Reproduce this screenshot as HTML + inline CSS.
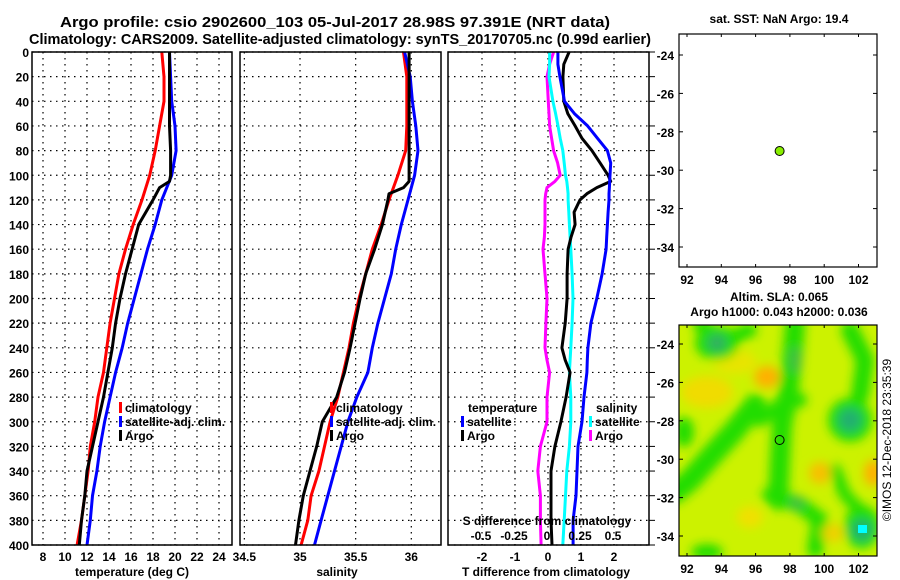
<!DOCTYPE html>
<html><head><meta charset="utf-8">
<style>
html,body{margin:0;padding:0;background:#fff;}
svg{display:block;font-family:"Liberation Sans",sans-serif;font-weight:bold;}
</style></head>
<body>
<svg id="chart" width="900" height="580" viewBox="0 0 900 580" xmlns="http://www.w3.org/2000/svg">
<defs>
<filter id="blur" x="-50%" y="-50%" width="200%" height="200%"><feGaussianBlur stdDeviation="5"/></filter>
<clipPath id="mapclip"><rect x="679" y="325" width="198" height="231"/></clipPath>
</defs>
<text x="60" y="27" font-size="15" textLength="550" lengthAdjust="spacingAndGlyphs">Argo profile: csio 2902600_103 05-Jul-2017 28.98S 97.391E (NRT data)</text>
<text x="29" y="44" font-size="15" textLength="622" lengthAdjust="spacingAndGlyphs">Climatology: CARS2009. Satellite-adjusted climatology: synTS_20170705.nc (0.99d earlier)</text>
<g id="layer"></g>
<text x="779" y="23" font-size="12" text-anchor="middle">sat. SST: NaN Argo: 19.4</text>
<text x="779" y="301" font-size="12" text-anchor="middle">Altim. SLA: 0.065</text>
<text x="779" y="316" font-size="12" text-anchor="middle">Argo h1000: 0.043 h2000: 0.036</text>
<text x="0" y="0" font-size="12" font-weight="normal" text-anchor="middle" transform="translate(891,440) rotate(-90)">©IMOS 12-Dec-2018 23:35:39</text>
</svg>
<script>
// ---- data ----
const depths = [0,20,40,60,80,100,120,140,160,180,200,220,240,260,280,300,320,340,360,380,400];
const tempClim = [18.8,19.0,19.0,18.6,18.2,17.7,17.0,16.2,15.5,14.9,14.5,14.1,13.8,13.5,13.0,12.7,12.3,12.1,11.8,11.5,11.1];
const tempSat  = [19.5,19.6,19.7,20.0,20.1,19.7,18.8,18.2,17.5,16.9,16.3,15.7,15.2,14.6,14.1,13.6,13.2,12.9,12.5,12.3,12.0];
const tempArgoDepths = [0,20,40,60,80,100,105,110,120,140,160,180,200,220,240,260,280,300,320,340,360,380,400];
const tempArgo = [19.5,19.5,19.5,19.5,19.6,19.6,19.5,18.6,18.0,16.7,16.1,15.5,15.0,14.6,14.3,13.9,13.5,13.0,12.5,12.0,11.8,11.5,11.3];
const salClim = [35.93,35.96,35.96,35.96,35.95,35.88,35.80,35.73,35.65,35.59,35.53,35.48,35.44,35.39,35.34,35.27,35.22,35.17,35.10,35.07,35.01];
const salSat  = [35.94,35.99,36.01,36.04,36.06,36.03,35.97,35.91,35.86,35.82,35.76,35.70,35.65,35.61,35.51,35.43,35.37,35.31,35.25,35.19,35.13];
const salArgoDepths = [0,20,40,60,80,100,105,110,115,120,140,160,180,200,240,260,280,300,320,340,360,380,400];
const salArgo = [35.98,35.98,35.98,35.98,35.98,35.98,35.98,35.93,35.80,35.79,35.74,35.67,35.59,35.54,35.45,35.40,35.33,35.20,35.15,35.09,35.03,34.99,34.96];
const diffDepths = [0,10,20,40,50,60,70,80,90,100,105,110,115,120,130,140,150,160,180,200,220,240,250,260,280,300,320,340,360,380,400];
const dTSat  = [0.30,0.30,0.36,0.50,0.80,1.20,1.50,1.80,1.90,1.88,1.87,1.86,1.85,1.85,1.82,1.80,1.78,1.76,1.64,1.48,1.30,1.21,1.19,1.18,1.09,1.03,0.91,0.88,0.85,0.76,0.76];
const dTArgo = [0.64,0.48,0.45,0.48,0.60,0.82,1.03,1.33,1.58,1.82,1.90,1.48,1.18,0.97,0.79,0.82,0.70,0.61,0.58,0.58,0.52,0.42,0.52,0.67,0.55,0.39,0.21,0.09,0.09,0.09,0.12];
const dSSat  = [0.02,0.02,0.015,0.045,0.065,0.083,0.10,0.12,0.13,0.14,0.15,0.155,0.16,0.16,0.165,0.17,0.175,0.18,0.19,0.197,0.19,0.18,0.175,0.17,0.18,0.18,0.17,0.15,0.14,0.13,0.12];
const dSArgo = [0.05,0.02,0.00,0.01,0.015,0.02,0.035,0.05,0.08,0.10,0.06,0.00,-0.01,-0.015,-0.015,-0.015,-0.02,-0.03,-0.015,0.00,-0.008,-0.015,0.00,0.02,0.00,0.00,-0.05,-0.07,-0.05,-0.05,-0.045];
const depthTicks = [0,20,40,60,80,100,120,140,160,180,200,220,240,260,280,300,320,340,360,380,400];
const tempTicks = [8,10,12,14,16,18,20,22,24];
const salTicks = [34.5,35,35.5,36];
const dTTicks = [-2,-1,0,1,2];
const dSTicks = [-0.5,-0.25,0,0.25,0.5];
const dSTickLabels = ["-0.5","-0.25","0","0.25","0.5"];
const lonTicks = [92,94,96,98,100,102];
const latTicks = [-24,-26,-28,-30,-32,-34];
const argoLon = [97.4];
const argoLat = [-29.0];

// ---- scales ----
const Y = d => 52 + d*1.2325;
const XT = t => 43 + (t-8)*11;
const XS = s => 300 + (s-35)*111.3;
const XdT = t => 548 + t*33;
const XdS = s => 547 + s*132;
const LON = l => 687 + (l-92)*17.15;
const LATT = l => 55 + (-24-l)*19.2;
const LATB = l => 344 + (-24-l)*19.2;

const NS="http://www.w3.org/2000/svg";
const layer=document.getElementById('layer');
function mk(tag,attrs,parent){const e=document.createElementNS(NS,tag);for(const k in attrs)e.setAttribute(k,attrs[k]);(parent||layer).appendChild(e);return e;}
function txt(x,y,s,anchor,size){const e=mk('text',{x:x,y:y,'font-size':size||12,'text-anchor':anchor||'start'});e.textContent=s;return e;}

const panels=[{x0:32,x1:232},{x0:240,x1:441},{x0:448,x1:649}];
panels.forEach((p,i)=>{
  depthTicks.forEach(d=>{
    const l=mk('line',{x1:p.x0,x2:p.x1,y1:Y(d),y2:Y(d),stroke:'#000','stroke-width':1.2,'stroke-dasharray':'1.5,4.5'});
    
    
  });
});
tempTicks.forEach(t=>{
  const l=mk('line',{x1:XT(t),x2:XT(t),y1:52,y2:545,stroke:'#000','stroke-width':1.2,'stroke-dasharray':'1.5,4.5'});
  
  
  const e=txt(XT(t),561,String(t),'middle');
  
  
});
salTicks.forEach(s=>{
  const l=mk('line',{x1:XS(s),x2:XS(s),y1:52,y2:545,stroke:'#000','stroke-width':1.2,'stroke-dasharray':'1.5,4.5'});
  
  
  const e=txt(XS(s),561,String(s),'middle');
  
  
});
dTTicks.forEach(t=>{
  const l=mk('line',{x1:XdT(t),x2:XdT(t),y1:52,y2:545,stroke:'#000','stroke-width':1.2,'stroke-dasharray':'1.5,4.5'});
  
  
  const e=txt(XdT(t),561,String(t),'middle');
  
  
});
depthTicks.forEach(d=>{
  const e=txt(29,Y(d)+5,String(d),'end');
  
  
  const tk=mk('line',{x1:649,x2:655,y1:Y(d),y2:Y(d),stroke:'#000','stroke-width':1});
  
  
});

function series(xs,ds,sx,color,name){
  const pts=xs.map((v,i)=>sx(v).toFixed(1)+','+Y(ds[i]).toFixed(1)).join(' ');
  const e=mk('polyline',{points:pts,fill:'none',stroke:color,'stroke-width':3,'stroke-linejoin':'round'});
  
  
}
series(tempClim,depths,XT,'#ff0000','temp-climatology-line');
series(tempSat,depths,XT,'#0000ff','temp-satellite-line');
series(tempArgo,tempArgoDepths,XT,'#000000','temp-argo-line');
series(salClim,depths,XS,'#ff0000','salinity-climatology-line');
series(salSat,depths,XS,'#0000ff','salinity-satellite-line');
series(salArgo,salArgoDepths,XS,'#000000','salinity-argo-line');
series(dSArgo,diffDepths,XdS,'#ff00ff','sdiff-argo-line');
series(dSSat,diffDepths,XdS,'#00ffff','sdiff-satellite-line');
series(dTArgo,diffDepths,XdT,'#000000','tdiff-argo-line');
series(dTSat,diffDepths,XdT,'#0000ff','tdiff-satellite-line');

panels.forEach(p=>{
  const r=mk('rect',{x:p.x0,y:52,width:p.x1-p.x0,height:493,fill:'none',stroke:'#000','stroke-width':1.5});
  
  
});

function legend(x,y,color,label,name){
  const m=mk('rect',{x:x,y:y-10,width:3,height:11,fill:color});
  
  
  const t=txt(x+6,y,label);
  
  
}
legend(119,412,'#ff0000','climatology','legend-temp-climatology');
legend(119,426,'#0000ff','satellite-adj. clim.','legend-temp-satellite');
legend(119,440,'#000000','Argo','legend-temp-argo');
legend(330,412,'#ff0000','climatology','legend-sal-climatology');
legend(330,426,'#0000ff','satellite-adj. clim.','legend-sal-satellite');
legend(330,440,'#000000','Argo','legend-sal-argo');
let t1=txt(468,412,'temperature');


legend(461,426,'#0000ff','satellite','legend-tdiff-satellite');
legend(461,440,'#000000','Argo','legend-tdiff-argo');
let t2=txt(596,412,'salinity');


legend(589,426,'#00ffff','satellite','legend-sdiff-satellite');
legend(589,440,'#ff00ff','Argo','legend-sdiff-argo');
let t3=txt(547,525,'S difference from climatology','middle');


dSTicks.forEach((s,i)=>{
  const e=txt(XdS(s),540,dSTickLabels[i],'middle');
  
  
});
let a1=txt(132,576,'temperature (deg C)','middle');


let a2=txt(337,576,'salinity','middle');


let a3=txt(546,576,'T difference from climatology','middle');



// ---- bottom map field ----
const mapg=mk('g',{'clip-path':'url(#mapclip)'});


mk('rect',{x:679,y:325,width:198,height:231,fill:'#ccf200'},mapg);
const bg=mk('g',{filter:'url(#blur)'},mapg);
const bands=[
 ['#22dd00',22,'755,405 735,430 712,455 690,480 675,492'],
 ['#22dd00',20,'795,325 792,360 788,395 782,425 780,460 778,500'],
 ['#22dd00',14,'760,420 780,405 800,400'],
 ['#22dd00',16,'770,495 800,505 820,520 815,550'],
 ['#22dd00',18,'850,330 865,360 860,395'],
 ['#22dd00',14,'700,325 725,340 750,330'],
 ['#22dd00',12,'835,470 845,495 860,510']
];
bands.forEach(b=>{
  const e=mk('polyline',{points:b[2],fill:'none',stroke:b[0],'stroke-width':b[1],'stroke-linecap':'round','stroke-linejoin':'round'},bg);
  
  
});
const blobs=[
 ['#f0dc00',707,392,26,16],['#ffb000',767,377,13,11],['#f8c000',820,473,11,11],['#ffb000',873,473,9,13],
 ['#f0e000',750,517,13,11],['#f0d000',833,533,11,9],['#e8e400',735,362,22,12],
 ['#22dd00',717,343,22,17],['#22dd00',684,432,10,15],
 ['#22dd00',850,420,22,22],['#22dd00',862,527,18,22],['#22dd00',707,552,16,8],
 ['#30b060',717,343,10,9],['#20b070',850,420,12,12],['#20b070',862,530,11,11],['#40c040',797,503,8,7],['#40c040',795,360,7,14]
];
blobs.forEach(b=>{
  const e=mk('ellipse',{cx:b[1],cy:b[2],rx:b[3],ry:b[4],fill:b[0]},bg);
  
  
});
const cy=mk('rect',{x:858,y:525,width:9,height:8,fill:'#00ffff'},mapg);



// ---- maps frames, ticks ----
[[34,267,LATT,'sst-map'],[325,556,LATB,'sla-map']].forEach(m=>{
  const r=mk('rect',{x:679,y:m[0],width:198,height:m[1]-m[0],fill:'none',stroke:'#000','stroke-width':1.2});
  
  
  lonTicks.forEach(l=>{
    const e=txt(LON(l),m[1]+17,String(l),'middle');
    
    
    mk('line',{x1:LON(l),x2:LON(l),y1:m[0],y2:m[0]+3,stroke:'#000'});
    mk('line',{x1:LON(l),x2:LON(l),y1:m[1],y2:m[1]-3,stroke:'#000'});
  });
  latTicks.forEach(l=>{
    const e=txt(674,m[2](l)+5,String(l),'end');
    
    
    mk('line',{x1:679,x2:683,y1:m[2](l),y2:m[2](l),stroke:'#000'});
    mk('line',{x1:877,x2:873,y1:m[2](l),y2:m[2](l),stroke:'#000'});
  });
});
argoLon.forEach((l,i)=>{
  const d1=mk('circle',{cx:LON(l),cy:LATT(argoLat[i]),r:4.5,fill:'#88ee00',stroke:'#000','stroke-width':1});
  
  
  const d2=mk('circle',{cx:LON(l),cy:LATB(argoLat[i]),r:4.5,fill:'none',stroke:'#000','stroke-width':1});
  
  
});
</script>
</body></html>
